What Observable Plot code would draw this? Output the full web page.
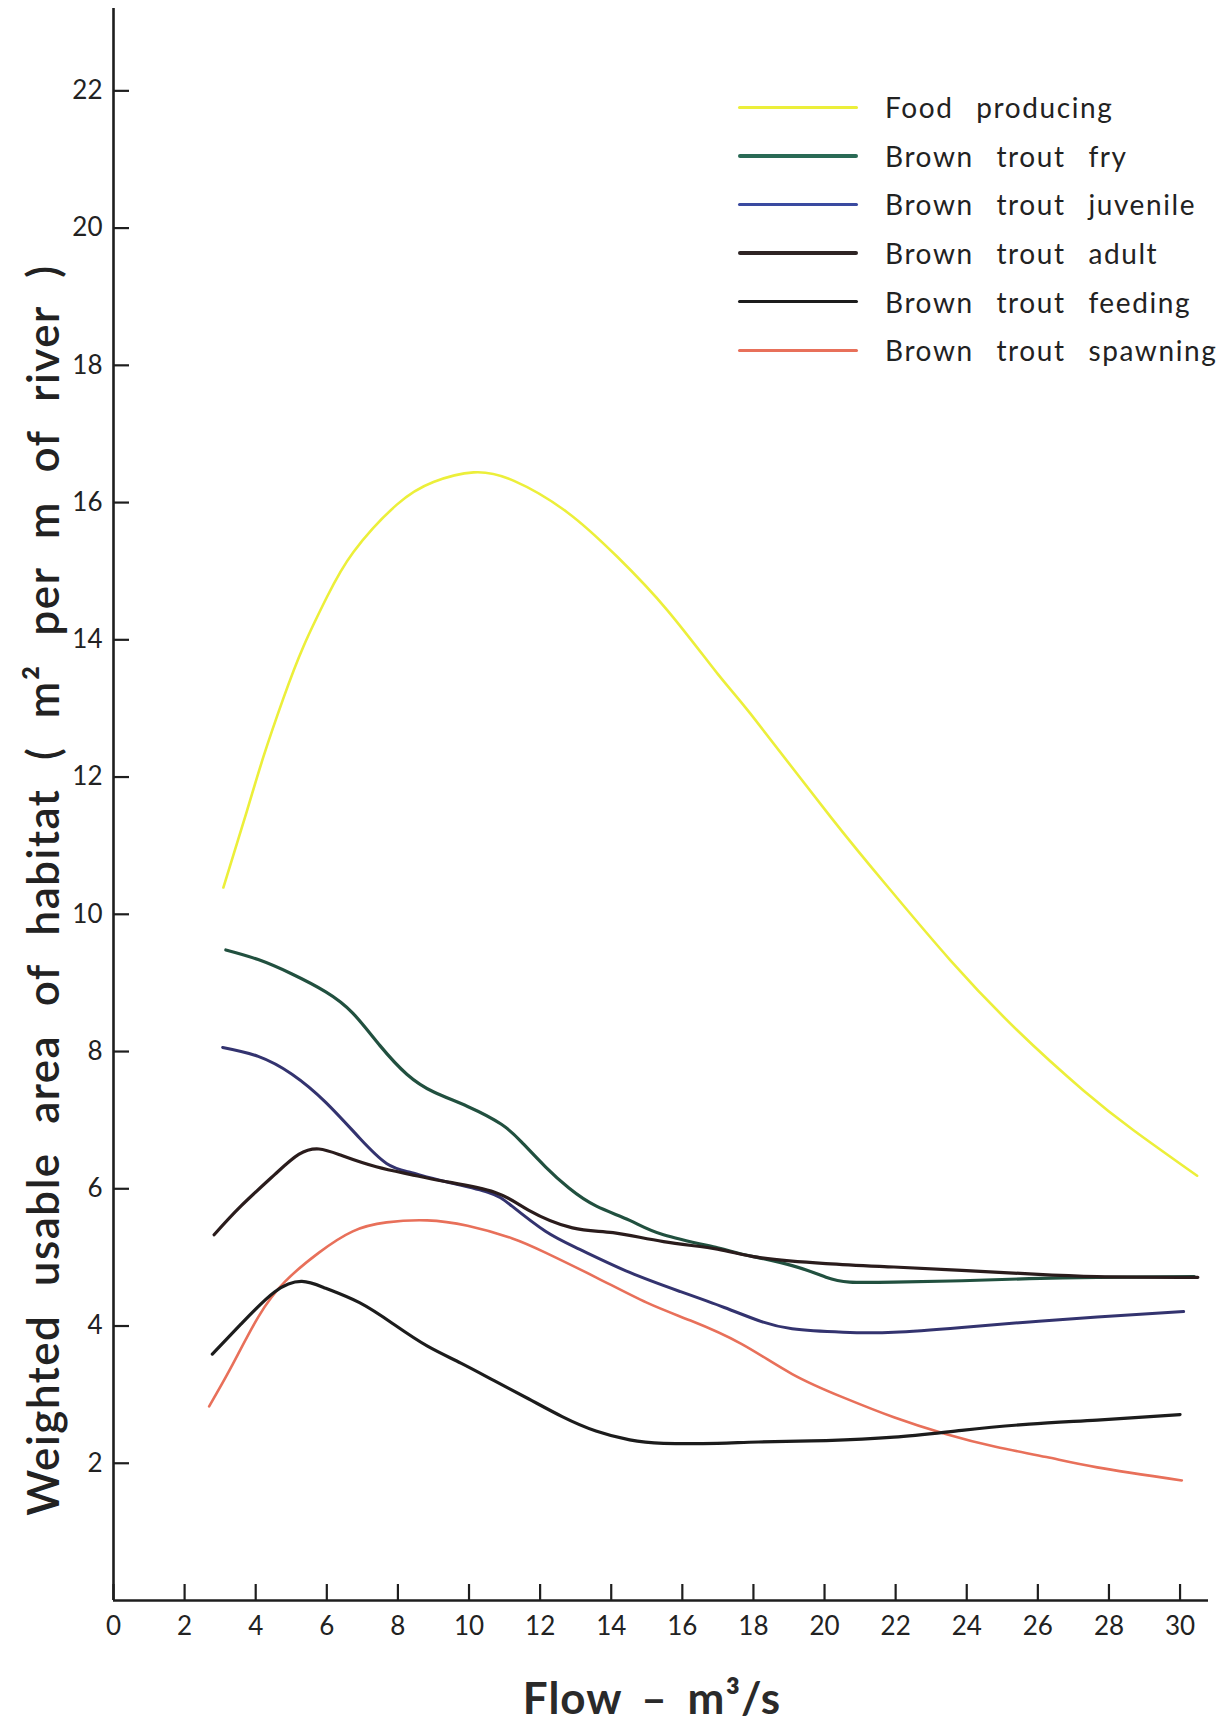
<!DOCTYPE html>
<html>
<head>
<meta charset="utf-8">
<script src="https://cdn.jsdelivr.net/npm/d3@7"></script>
<script src="https://cdn.jsdelivr.net/npm/@observablehq/plot@0.6"></script>
<style>
  html, body { margin: 0; padding: 0; background: #ffffff; }
  #wrap { position: relative; width: 1229px; height: 1729px; font-family: Lato, "Noto Sans", sans-serif; color: #222; }
  #chart { position: absolute; left: 0; top: 0; }
  #ylabel { position: absolute; left: 42px; top: 890px; transform: translate(-50%, -50%) rotate(-90deg);
            white-space: nowrap; font-size: 44px; font-weight: 600; letter-spacing: 1.5px; word-spacing: 16px; color: #222; }
  #xlabel { position: absolute; left: 652px; top: 1697px; transform: translate(-50%, -50%);
            white-space: nowrap; font-size: 44px; font-weight: 700; letter-spacing: 1px; word-spacing: 8px; color: #2a2a2a; }
  #legend { position: absolute; left: 738px; top: 83px; }
  .row { display: flex; align-items: center; height: 48.6px; }
  .swatch { width: 120px; height: 3.5px; border-radius: 2px; margin-right: 27px; }
  .lab { font-size: 28px; letter-spacing: 1.6px; word-spacing: 14px; color: #222; white-space: nowrap; }
</style>
</head>
<body>
<div id="wrap">
  <div id="chart"></div>
  <div id="ylabel"></div>
  <div id="xlabel"></div>
  <div id="legend"></div>
</div>
<script>
// ---- data (flow m3/s, weighted usable area m2 per m of river) ----
const seriesNames = ["Food producing", "Brown trout fry", "Brown trout juvenile", "Brown trout adult", "Brown trout feeding", "Brown trout spawning"];
const seriesColors = ["#ecef3a", "#21503f", "#33336f", "#2a1c1c", "#1c1c1c", "#e8705a"];
const legendColors = ["#ecef3a", "#2a6a55", "#3a4aa0", "#2e2424", "#1c1c1c", "#e8705a"];

const foodProducing = [[3.09,10.39],[3.75,11.5],[4.22,12.3],[4.78,13.15],[5.34,13.9],[6.0,14.62],[6.75,15.28],[7.97,15.97],[9.0,16.3],[10.13,16.44],[11.25,16.32],[12.76,15.86],[14.17,15.21],[15.58,14.43],[17.0,13.5],[17.92,12.92],[20.17,11.42],[21.86,10.35],[23.54,9.33],[25.42,8.31],[27.29,7.43],[28.7,6.85],[30.48,6.19]];
const troutFry = [[3.16,9.48],[4.07,9.34],[5.02,9.13],[5.97,8.87],[6.73,8.56],[7.49,8.09],[8.25,7.67],[9.01,7.41],[9.96,7.2],[10.91,6.94],[11.48,6.68],[12.15,6.32],[12.81,6.01],[13.57,5.75],[14.52,5.54],[15.47,5.33],[16.99,5.14],[17.66,5.05],[19.09,4.88],[20.04,4.71],[20.71,4.64],[21.95,4.64],[23.86,4.66],[25.76,4.69],[27.67,4.71],[30.4,4.72]];
const troutJuvenile = [[3.07,8.06],[4.07,7.93],[5.02,7.67],[5.97,7.26],[6.92,6.74],[7.68,6.37],[8.34,6.24],[9.29,6.11],[10.53,5.95],[11.2,5.75],[12.15,5.38],[13.1,5.12],[14.52,4.78],[15.95,4.5],[17.18,4.27],[18.14,4.08],[19.09,3.96],[20.52,3.91],[21.95,3.91],[23.86,3.98],[25.76,4.06],[27.67,4.13],[30.1,4.21]];
const troutAdult = [[2.83,5.33],[3.59,5.75],[4.54,6.21],[5.21,6.5],[5.78,6.58],[6.44,6.48],[7.39,6.32],[8.34,6.21],[9.29,6.11],[10.72,5.95],[11.67,5.69],[12.91,5.43],[14.05,5.36],[15.47,5.23],[16.99,5.12],[18.14,5.0],[20.04,4.91],[21.95,4.86],[23.86,4.81],[25.76,4.76],[27.67,4.72],[30.5,4.71]];
const troutFeeding = [[2.78,3.59],[3.59,4.03],[4.54,4.5],[5.3,4.65],[5.97,4.55],[6.92,4.34],[7.87,4.03],[8.82,3.71],[9.77,3.46],[10.72,3.2],[11.67,2.94],[12.62,2.68],[13.57,2.47],[14.52,2.34],[15.47,2.29],[16.99,2.29],[18.14,2.31],[20.04,2.33],[21.95,2.38],[23.86,2.48],[25.76,2.57],[27.67,2.63],[30.0,2.71]];
const troutSpawning = [[2.69,2.83],[3.31,3.4],[4.07,4.13],[4.83,4.65],[5.78,5.07],[6.73,5.38],[7.68,5.51],[8.82,5.54],[9.96,5.46],[11.2,5.28],[12.15,5.07],[13.57,4.71],[15.0,4.34],[16.23,4.08],[17.66,3.74],[19.09,3.3],[20.52,2.96],[21.95,2.67],[23.38,2.43],[24.81,2.24],[26.24,2.09],[27.67,1.94],[30.05,1.75]];

const xTicks = [0,2,4,6,8,10,12,14,16,18,20,22,24,26,28,30];
const yTicks = [2,4,6,8,10,12,14,16,18,20,22];
const yLabelText = "Weighted usable area of habitat ( m² per m of river )";
const xLabelText = "Flow – m³/s";

// ---- build table ----
const seriesData = [foodProducing, troutFry, troutJuvenile, troutAdult, troutFeeding, troutSpawning];
const rows = [];
seriesData.forEach((pts, i) => pts.forEach(([x, y]) => rows.push({series: seriesNames[i], x, y})));
const drawOrder = [0, 5, 1, 2, 3, 4];
const widths = [2.6, 3.2, 3.0, 3.2, 3.2, 2.6];

const lineMarks = drawOrder.map(i => Plot.line(rows.filter(r => r.series === seriesNames[i]), {
  x: "x", y: "y", stroke: seriesColors[i], strokeWidth: widths[i], curve: "natural", strokeLinecap: "round"
}));

const chart = Plot.plot({
  width: 1229,
  height: 1729,
  marginLeft: 113,
  marginRight: 21,
  marginTop: 8,
  marginBottom: 129,
  style: {fontFamily: "Lato, 'Noto Sans', sans-serif", background: "#ffffff", color: "#222"},
  x: {domain: [0, 30.8]},
  y: {domain: [0, 23.2]},
  marks: [
    ...lineMarks,
    Plot.ruleY([0], {stroke: "#1e1e1e", strokeWidth: 2.6}),
    Plot.ruleX([0], {stroke: "#1e1e1e", strokeWidth: 2.6}),
    Plot.axisY(yTicks, {tickSize: -16, tickPadding: 27, fontSize: 26, strokeWidth: 2.2, stroke: "#1e1e1e", fill: "#222", label: null, tickFormat: d => String(d)}),
    Plot.axisX(xTicks, {tickSize: -16, tickPadding: 32, fontSize: 26, strokeWidth: 2.2, stroke: "#1e1e1e", fill: "#222", label: null, tickFormat: d => String(d)})
  ]
});
document.getElementById("chart").appendChild(chart);

document.getElementById("ylabel").textContent = yLabelText;
document.getElementById("xlabel").textContent = xLabelText;

const legend = document.getElementById("legend");
seriesNames.forEach((name, i) => {
  const row = document.createElement("div");
  row.className = "row";
  const sw = document.createElement("div");
  sw.className = "swatch";
  sw.style.background = legendColors[i];
  const lab = document.createElement("div");
  lab.className = "lab";
  lab.textContent = name;
  row.appendChild(sw);
  row.appendChild(lab);
  legend.appendChild(row);
});
</script>
</body>
</html>
